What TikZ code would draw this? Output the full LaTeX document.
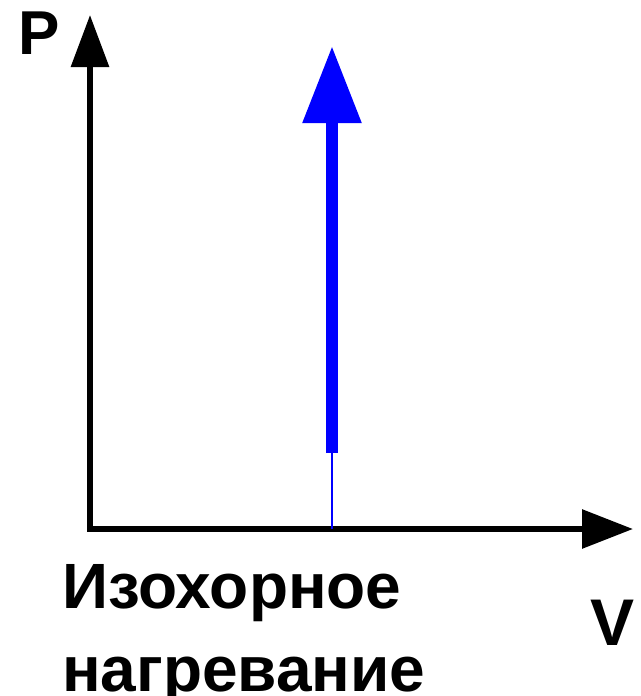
\documentclass[tikz,border=0pt]{standalone}
\usepackage{fontspec}
\setmainfont{Liberation Sans}
\usetikzlibrary{positioning, arrows.meta}
\definecolor{process}{HTML}{0000FF}

\begin{document}
\begin{tikzpicture}[x=1pt, y=-1pt,
    axis/.style={line width=6pt, black, line join=miter,
      -{Triangle[length=52pt, width=37pt]}},
    label/.style={font=\fontsize{62}{70}\selectfont\bfseries, inner sep=0pt}]
        \useasboundingbox (0,0) rectangle (640,696);
        \coordinate (O)    at (90,529);
        \coordinate (ptip) at (90,15);
        \coordinate (vtip) at (633,529);
        \coordinate (base) at (332,529);
        \coordinate (start) at (332,453);
        \coordinate (tip)  at (332,46);

        % axes
        \draw[axis] (O) -- (ptip);
        \draw[axis, -{Triangle[length=51pt, width=38pt]}] ([xshift=-3pt]O) -- (vtip);

        % isochoric process
        \draw[process, line width=2pt] (base) -- (start);
        \draw[process, line width=12pt, -{Triangle[length=77pt, width=56pt]}] (start) -- (tip);

        \node[label, anchor=base west] (pname) at (18,54) {P};
        \node[label, anchor=base west, font=\fontsize{66}{70}\selectfont\bfseries] (vname) at (590,645) {V};
        \node[label, anchor=base west, font=\fontsize{64}{70}\selectfont\bfseries] (line1) at (62,608) {Изохорное};
        \node[label, anchor=base west, font=\fontsize{64}{70}\selectfont\bfseries] (line2) at (62,691) {нагревание};
      \end{tikzpicture}
\end{document}
